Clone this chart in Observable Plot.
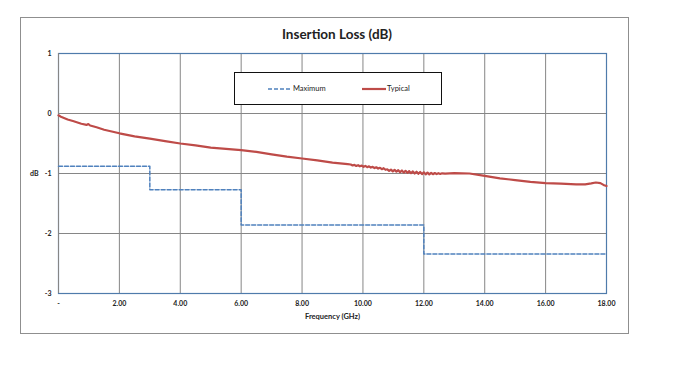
<!DOCTYPE html>
<html>
<head>
<meta charset="utf-8">
<script src="https://cdn.jsdelivr.net/npm/d3@7"></script>
<script src="https://cdn.jsdelivr.net/npm/@observablehq/plot@0.6"></script>
<style>
  html, body { margin: 0; padding: 0; background: #fff; }
  #wrap { position: relative; width: 683px; height: 370px; overflow: hidden; font-family: Lato, "Open Sans", sans-serif; }
  #wrap svg { position: absolute; left: 0; top: 0; }
  .outer { position: absolute; left: 20px; top: 17px; width: 607px; height: 315px; border: 1px solid #8f8f8f; }
  .title { position: absolute; left: 237px; width: 200px; top: 26px; text-align: center; font-weight: bold; font-size: 13.5px; color: #222; }
  .legend { position: absolute; left: 234px; top: 72px; width: 206px; height: 31px; border: 1.3px solid #111; background: #fff; }
  .legend .item { position: absolute; top: 11px; font-size: 7.5px; color: #222; display: flex; align-items: center; }
</style>
</head>
<body>
<div id="wrap">
  <div class="outer"></div>
</div>
<script>
// Frequency grid / ticks (GHz)
const xTicks = [0, 2, 4, 6, 8, 10, 12, 14, 16, 18];
const yTicks = [1, 0, -1, -2, -3];

// Series "Maximum" (step specification, dB)
const maxFreq = [0, 3, 6, 12, 18];
const maxLoss = [-0.88, -1.27, -1.86, -2.34, -2.34];

// Series "Typical" (measured, dB)
const typFreq = [0, 0.1, 0.3, 0.5, 0.75, 0.92, 0.98, 1.04, 1.25, 1.5, 2, 2.5, 3, 3.5, 4, 4.5, 5, 5.5, 6, 6.5, 7, 7.5, 8, 8.5, 9, 9.5,
  9.60, 9.66, 9.72, 9.78, 9.84, 9.90, 9.96, 10.02, 10.08, 10.14, 10.20, 10.26, 10.32, 10.38, 10.44, 10.50, 10.56, 10.62, 10.68, 10.74,
  10.80, 10.86, 10.92, 10.98, 11.04, 11.10, 11.16, 11.22, 11.28, 11.34, 11.40, 11.46, 11.52, 11.58, 11.64, 11.70, 11.76, 11.82, 11.88, 11.94,
  12.00, 12.06, 12.12, 12.18, 12.24, 12.30, 12.36, 12.42, 12.48, 12.54, 12.60, 12.70,
  13, 13.5, 14, 14.5, 15, 15.5, 16, 16.5, 17, 17.3, 17.5, 17.65, 17.8, 17.9, 18];
const typLoss = [-0.03, -0.06, -0.10, -0.13, -0.17, -0.19, -0.175, -0.20, -0.23, -0.27, -0.33, -0.38, -0.42, -0.46, -0.50, -0.53, -0.57, -0.59, -0.61, -0.64, -0.68, -0.72, -0.75, -0.78, -0.82, -0.845,
  -0.850, -0.866, -0.856, -0.874, -0.862, -0.880, -0.868, -0.888, -0.874, -0.894, -0.880, -0.902, -0.888, -0.910, -0.896, -0.918, -0.904, -0.928, -0.912, -0.938,
  -0.930, -0.955, -0.935, -0.965, -0.940, -0.970, -0.945, -0.978, -0.950, -0.985, -0.955, -0.990, -0.960, -0.995, -0.965, -1.000, -0.970, -1.005,
  -0.975, -1.010, -0.980, -1.015, -0.985, -1.015, -0.990, -1.012, -0.992, -1.010, -0.995, -1.008, -0.997, -1.003,
  -0.995, -1.00, -1.04, -1.08, -1.11, -1.14, -1.16, -1.17, -1.18, -1.18, -1.165, -1.15, -1.16, -1.19, -1.21];

const maxData = maxFreq.map((f, i) => ({f, v: maxLoss[i]}));
const typData = typFreq.map((f, i) => ({f, v: typLoss[i]}));

const BLUE = "#4f81bd";
const RED = "#be4b48";
const GRID = "#868686";
const FRAME = "#4f7bab";

const chart = Plot.plot({
  width: 683,
  height: 370,
  marginLeft: 58,
  marginRight: 77,
  marginTop: 53,
  marginBottom: 77,
  style: { fontFamily: "Lato, 'Open Sans', sans-serif", background: "transparent", color: "#222" },
  x: { domain: [0, 18] },
  y: { domain: [-3, 1] },
  marks: [
    Plot.ruleX(xTicks, { stroke: GRID, strokeWidth: 1 }),
    Plot.ruleY(yTicks, { stroke: GRID, strokeWidth: 1 }),
    Plot.frame({ stroke: FRAME, strokeWidth: 1.2 }),
    Plot.ruleX([0], { stroke: GRID, strokeWidth: 1 }),
    Plot.axisX({ ticks: xTicks, tickSize: 0, tickPadding: 8, fontSize: 7, fontWeight: "bold", label: null,
      tickFormat: d => d === 0 ? "-" : d.toFixed(2) }),
    Plot.axisY({ ticks: yTicks, tickSize: 0, tickPadding: 7, fontSize: 7, fontWeight: "bold", label: null,
      tickFormat: d => String(d) }),
    Plot.text(["dB"], { frameAnchor: "left", dx: -20, textAnchor: "end", fontSize: 7, fontWeight: "bold", fill: "#222" }),
    Plot.text(["Frequency (GHz)"], { frameAnchor: "bottom", dy: 25, fontSize: 7.5, fontWeight: "bold", fill: "#222" }),
    Plot.line(maxData, { x: "f", y: "v", curve: "step-after", stroke: BLUE, strokeWidth: 1.5, strokeDasharray: "4,2" }),
    Plot.line(typData, { x: "f", y: "v", stroke: RED, strokeWidth: 2.2 })
  ]
});

const wrap = document.getElementById("wrap");
wrap.appendChild(chart);

const title = document.createElement("div");
title.className = "title";
title.textContent = "Insertion Loss (dB)";
wrap.appendChild(title);

const legend = document.createElement("div");
legend.className = "legend";
legend.innerHTML = `
  <div class="item" style="left:33px"><svg width="24" height="4" style="position:static"><line x1="0" y1="2" x2="24" y2="2" stroke="${BLUE}" stroke-width="1.5" stroke-dasharray="4,2"/></svg><span style="margin-left:1px">Maximum</span></div>
  <div class="item" style="left:127px"><svg width="24" height="4" style="position:static"><line x1="0" y1="2" x2="24" y2="2" stroke="${RED}" stroke-width="2.2"/></svg><span style="margin-left:1px">Typical</span></div>`;
wrap.appendChild(legend);
</script>
</body>
</html>
